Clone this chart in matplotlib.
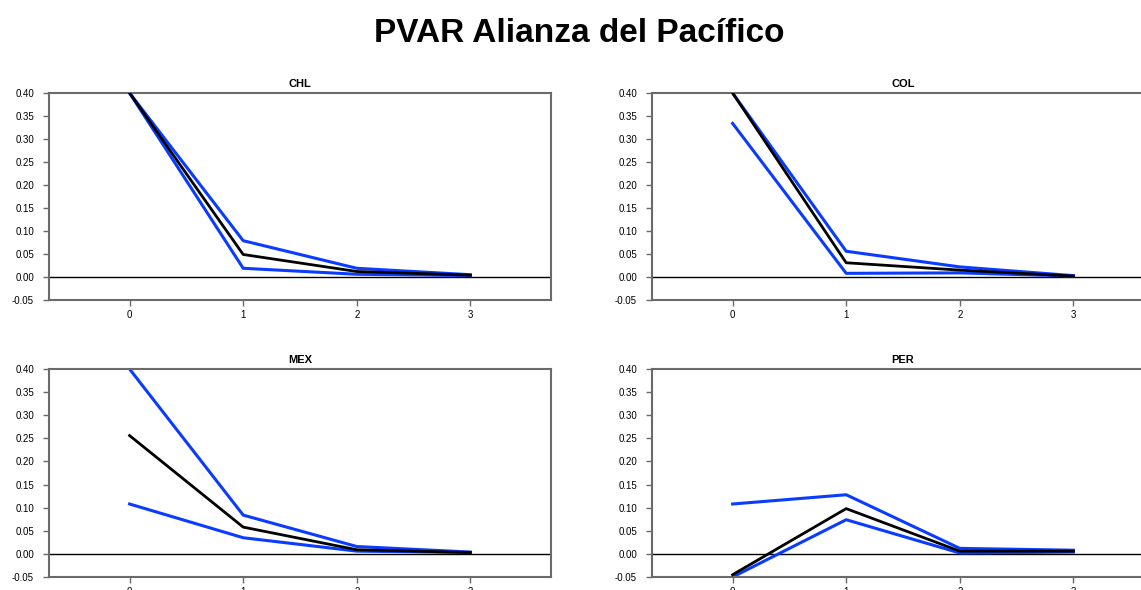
import matplotlib
matplotlib.use("Agg")
import matplotlib.pyplot as plt

plt.rcParams['font.family'] = ['Liberation Sans', 'DejaVu Sans']

# horizonte de la respuesta
pasos = [0, 1, 2, 3]

# respuesta al impulso y bandas de confianza por pais
paises = ["CHL", "COL", "MEX", "PER"]
chl_sup = [0.400, 0.079, 0.019, 0.005]
chl_irf = [0.400, 0.049, 0.012, 0.004]
chl_inf = [0.400, 0.019, 0.006, 0.003]
col_sup = [0.400, 0.056, 0.022, 0.003]
col_irf = [0.400, 0.031, 0.015, 0.002]
col_inf = [0.334, 0.008, 0.009, 0.002]
mex_sup = [0.400, 0.084, 0.016, 0.004]
mex_irf = [0.256, 0.058, 0.009, 0.003]
mex_inf = [0.108, 0.035, 0.006, 0.003]
per_sup = [0.108, 0.128, 0.012, 0.008]
per_irf = [-0.045, 0.098, 0.006, 0.006]
per_inf = [-0.050, 0.074, 0.002, 0.004]

series = {
    "CHL": (chl_sup, chl_irf, chl_inf),
    "COL": (col_sup, col_irf, col_inf),
    "MEX": (mex_sup, mex_irf, mex_inf),
    "PER": (per_sup, per_irf, per_inf),
}

yticks = [-0.05, 0.00, 0.05, 0.10, 0.15, 0.20, 0.25, 0.30, 0.35, 0.40]

azul = "#0a3cff"
gris = "#6a6a6a"

fig = plt.figure(figsize=(11.41, 5.90), dpi=100)
fig.suptitle("PVAR Alianza del Pacífico", fontsize=24, fontweight="bold",
             x=0.508, y=0.943, va="center")

posiciones = [
    [0.0429, 0.4915, 0.440, 0.3508],
    [0.5714, 0.4915, 0.440, 0.3508],
    [0.0429, 0.0220, 0.440, 0.3525],
    [0.5714, 0.0220, 0.440, 0.3525],
]

for pais, pos in zip(paises, posiciones):
    ax = fig.add_axes(pos)
    sup, irf, inf = series[pais]
    ax.axhline(0, color="black", lw=1.0, zorder=1)
    ax.plot(pasos, sup, color=azul, lw=2.2, zorder=2)
    ax.plot(pasos, inf, color=azul, lw=2.2, zorder=2)
    ax.plot(pasos, irf, color="black", lw=2.0, zorder=3)
    ax.set_xlim(-0.71, 3.71)
    ax.set_ylim(-0.05, 0.40)
    ax.set_xticks(pasos)
    ax.set_xticklabels([str(p) for p in pasos])
    ax.set_yticks(yticks)
    ax.set_yticklabels(["%.2f" % v for v in yticks])
    ax.tick_params(labelsize=7, length=4.3, width=1, color=gris)
    ax.tick_params(axis="y", pad=6.5)
    ax.tick_params(axis="x", pad=3)
    for s in ax.spines.values():
        s.set_color(gris)
        s.set_linewidth(1.5)
    ax.set_title(pais, fontsize=8, fontweight="bold", pad=4)

fig.savefig("out.png", dpi=100)
